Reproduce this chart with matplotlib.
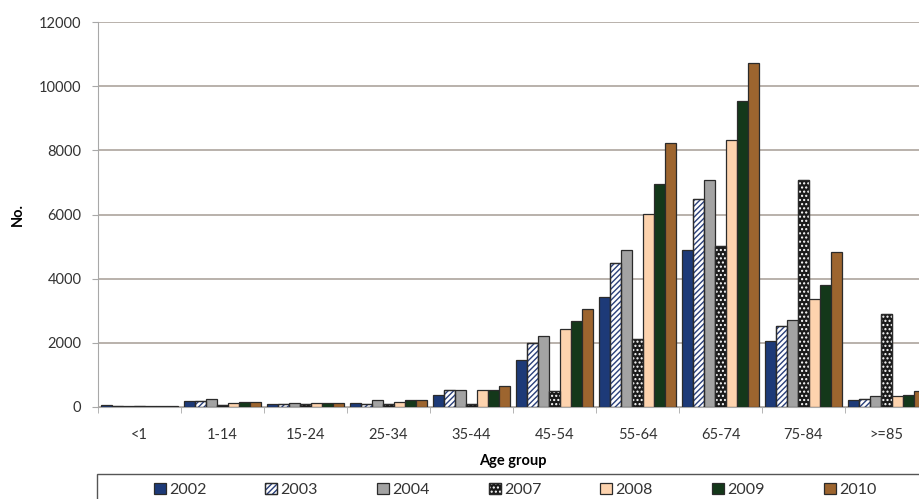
import numpy as np
import matplotlib.pyplot as plt
from matplotlib.patches import Rectangle
from matplotlib.legend_handler import HandlerTuple

plt.rcParams['font.family'] = ['Lato', 'DejaVu Sans']

groups = ['<1', '1-14', '15-24', '25-34', '35-44', '45-54', '55-64', '65-74', '75-84', '>=85']
years = ['2002', '2003', '2004', '2007', '2008', '2009', '2010']

v2002 = [50, 200, 80, 120, 370, 1470, 3440, 4890, 2050, 220]
v2003 = [40, 200, 100, 100, 530, 1990, 4480, 6480, 2520, 250]
v2004 = [40, 250, 130, 230, 530, 2220, 4880, 7070, 2720, 330]
v2007 = [30, 50, 100, 100, 100, 500, 2130, 5010, 7070, 2890]
v2008 = [40, 120, 120, 170, 530, 2430, 6030, 8320, 3380, 330]
v2009 = [40, 170, 120, 220, 530, 2680, 6950, 9550, 3810, 380]
v2010 = [40, 170, 120, 220, 650, 3050, 8240, 10720, 4820, 510]
series = [v2002, v2003, v2004, v2007, v2008, v2009, v2010]

# face colour, hatch, hatch colour
styles = [
    ('#1d3a78', None, None),
    ('#ffffff', '//////', '#2a3f7a'),
    ('#a3a3a3', None, None),
    ('#1a1a1a', '....', '#ffffff'),
    ('#fdd3ae', None, None),
    ('#14381a', None, None),
    ('#9d652f', None, None),
]

fig = plt.figure(figsize=(9.2, 4.99), dpi=100)
ax = fig.add_axes([98 / 920, 92 / 499, 830 / 920, 385 / 499])

x = np.arange(len(groups))
w = 0.134
handles = []
for i, (vals, (fc, hatch, hc)) in enumerate(zip(series, styles)):
    pos = x + (i - 3) * w
    base = ax.bar(pos, vals, width=w, color=fc, edgecolor='#2b2b2b', linewidth=0.9, zorder=3)
    if hatch:
        over = ax.bar(pos, vals, width=w, color='none', edgecolor=hc, hatch=hatch,
                      linewidth=0, zorder=4)
        edge = ax.bar(pos, vals, width=w, color='none', edgecolor='#2b2b2b', linewidth=0.9, zorder=5)
        handles.append((base, over, edge))
    else:
        handles.append(base)

ax.set_xlim(-0.5, len(groups) - 0.5)
ax.set_ylim(0, 12000)
ax.set_yticks(np.arange(0, 12001, 2000))
ax.yaxis.grid(True, color='#a59c95', linewidth=1.1, zorder=0)
ax.set_axisbelow(True)

ax.set_xticks(x)
ax.set_xticklabels(groups, fontsize=10.5, color='#333333')
ax.set_xticks(np.arange(-0.5, len(groups), 1), minor=True)
ax.tick_params(axis='x', which='major', length=0, pad=15)
ax.tick_params(axis='x', which='minor', length=4, color='#a8a8a8')
ax.tick_params(axis='y', length=4, color='#a8a8a8', labelsize=10.5, labelcolor='#333333', pad=8)

for s in ['top', 'right']:
    ax.spines[s].set_visible(False)
ax.spines['left'].set_color('#a8a8a8')
ax.spines['bottom'].set_color('#a8a8a8')

ax.set_xlabel('Age group', fontsize=10.5, fontweight='bold', labelpad=9)
ax.set_ylabel('No.', fontsize=10.5, fontweight='bold', labelpad=10)

# legend box spanning the plot width, entries centred inside
fig.patches.append(Rectangle((97 / 920, -12 / 499), 831 / 920, 37 / 499,
                             transform=fig.transFigure, facecolor='white',
                             edgecolor='#555555', linewidth=1.0, zorder=1))
leg = fig.legend(handles, years, ncol=7, loc='center',
                 bbox_to_anchor=(515 / 920, 9 / 499),
                 fontsize=11.5, frameon=False,
                 handlelength=0.75, handleheight=0.75,
                 handletextpad=0.2, columnspacing=3.7, borderpad=0, borderaxespad=0,
                 handler_map={tuple: HandlerTuple(ndivide=1, pad=0)})
for t in leg.get_texts():
    t.set_color('#333333')

fig.savefig('out.png', dpi=100)
